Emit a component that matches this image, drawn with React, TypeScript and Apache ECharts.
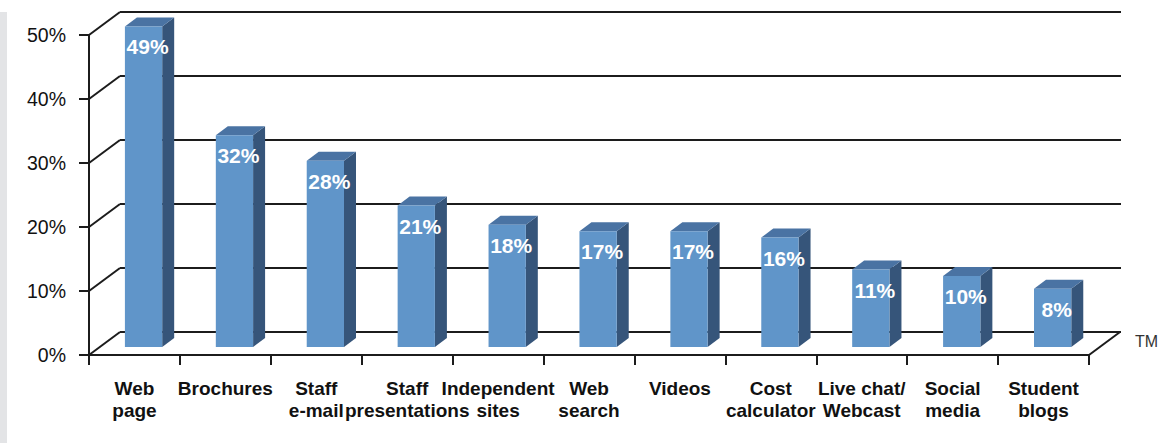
import React, { useEffect, useRef } from "react";
import * as echarts from "echarts";

const categories = [
  "Web\npage",
  "Brochures",
  "Staff\ne-mail",
  "Staff\npresentations",
  "Independent\nsites",
  "Web\nsearch",
  "Videos",
  "Cost\ncalculator",
  "Live chat/\nWebcast",
  "Social\nmedia",
  "Student\nblogs",
];
const values = [49, 32, 28, 21, 18, 17, 17, 16, 11, 10, 8];
const yTicks = [0, 10, 20, 30, 40, 50];

const FONT = "'Liberation Sans', Arial, sans-serif";
const LINE = "#1c1c1c";
const DX = 31;
const DY = -23;

export default function App() {
  const ref = useRef<HTMLDivElement>(null);
  useEffect(() => {
    const chart = echarts.init(ref.current!, null, { renderer: "svg" });
    chart.setOption({
      animation: false,
      backgroundColor: "#ffffff",
      grid: { left: 89, right: 70, top: 35, bottom: 88 },
      graphic: [
        {
          type: "rect",
          shape: { x: 0, y: 12, width: 7, height: 431 },
          style: { fill: "#e3e4e6" },
          silent: true,
        },
        {
          type: "text",
          x: 1135,
          y: 333,
          style: { text: "TM", fill: "#333", font: "16px " + FONT },
        },
      ],
      xAxis: {
        type: "category",
        data: categories,
        boundaryGap: true,
        axisLine: { show: true, lineStyle: { color: LINE, width: 2 } },
        axisTick: { show: true, length: 10, lineStyle: { color: LINE, width: 2 } },
        axisLabel: {
          interval: 0,
          color: "#111",
          fontFamily: FONT,
          fontWeight: "bold",
          fontSize: 19,
          lineHeight: 22,
          margin: 22,
        },
        splitLine: { show: false },
      },
      yAxis: {
        type: "value",
        min: 0,
        max: 50,
        interval: 10,
        axisLine: { show: true, lineStyle: { color: LINE, width: 2 } },
        axisTick: { show: true, length: 10, lineStyle: { color: LINE, width: 2 } },
        axisLabel: {
          formatter: "{value}%",
          color: "#111",
          fontFamily: FONT,
          fontSize: 19.5,
          margin: 23,
        },
        splitLine: { show: false },
      },
      series: [
        {
          type: "custom",
          z: 1,
          silent: true,
          data: yTicks.map((v) => [0, v]),
          encode: { x: 0, y: 1 },
          renderItem: (params: any, api: any) => {
            const cs = params.coordSys;
            const v = api.value(1);
            const y = api.coord([0, v])[1];
            const x0 = cs.x;
            const x1 = cs.x + cs.width;
            const st = { stroke: LINE, lineWidth: 2 };
            const children: any[] = [
              { type: "line", shape: { x1: x0, y1: y, x2: x0 + DX, y2: y + DY }, style: st },
              { type: "line", shape: { x1: x0 + DX, y1: y + DY, x2: x1 + DX + 1, y2: y + DY }, style: st },
            ];
            if (v === 0) {
              children.push({ type: "line", shape: { x1: x1, y1: y, x2: x1 + DX, y2: y + DY }, style: st });
            }
            return { type: "group", children };
          },
        },
        {
          type: "custom",
          z: 3,
          data: values.map((v, i) => [i, v]),
          encode: { x: 0, y: 1 },
          renderItem: (params: any, api: any) => {
            const i = api.value(0);
            const v = api.value(1);
            const [cx, cy] = api.coord([i, v]);
            const by = api.coord([i, 0])[1];
            const bw = api.size([1, 0])[0];
            const fw = bw * 0.41;
            const L = cx + bw * 0.1 - fw / 2;
            const R = L + fw;
            const top = cy - 15;
            const bot = by - 8;
            const sx = 12;
            const sy = -9;
            return {
              type: "group",
              children: [
                {
                  type: "polygon",
                  shape: { points: [[R, top], [R + sx, top + sy], [R + sx, bot + sy], [R, bot]] },
                  style: { fill: "#36557a" },
                },
                {
                  type: "polygon",
                  shape: { points: [[L, top], [R, top], [R + sx, top + sy], [L + sx, top + sy]] },
                  style: { fill: "#4a73a3" },
                },
                {
                  type: "rect",
                  shape: { x: L, y: top, width: fw, height: bot - top },
                  style: { fill: "#6095c9" },
                },
                {
                  type: "text",
                  x: (L + R) / 2 + 4,
                  y: top + 10,
                  style: {
                    text: v + "%",
                    fill: "#ffffff",
                    fontFamily: FONT,
                    fontWeight: "bold",
                    fontSize: 21,
                    align: "center",
                    verticalAlign: "top",
                  },
                },
              ],
            };
          },
        },
      ],
    });
    return () => chart.dispose();
  }, []);
  return (
    <div
      ref={ref}
      style={{ position: "fixed", left: 0, top: 0, width: 1159, height: 443, background: "#fff" }}
    />
  );
}
